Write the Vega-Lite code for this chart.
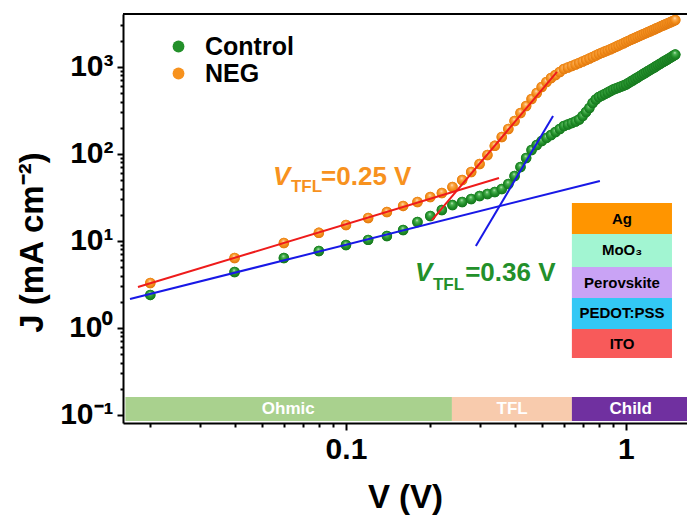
{
  "$schema": "https://vega.github.io/schema/vega-lite/v6.json",
  "width": 564,
  "height": 409,
  "autosize": {"type": "none"},
  "padding": {"left": 123, "top": 14, "right": 0, "bottom": 97},
  "background": "white",
  "config": {
    "view": {"stroke": null},
    "font": "Liberation Sans",
    "axis": {
      "grid": false,
      "domainColor": "black",
      "domainWidth": 2,
      "tickColor": "black",
      "tickWidth": 2,
      "labelFont": "Liberation Sans",
      "labelFontSize": 30,
      "labelFontWeight": "bold",
      "labelColor": "black",
      "titleFont": "Liberation Sans",
      "titleFontSize": 33,
      "titleFontWeight": "bold",
      "titleColor": "black"
    }
  },
  "datasets": {
    "iv": [
      {"s": "Control", "V": 0.02, "J": 2.40}, {"s": "Control", "V": 0.04, "J": 4.40}, {"s": "Control", "V": 0.06, "J": 6.38},
      {"s": "Control", "V": 0.08, "J": 7.68}, {"s": "Control", "V": 0.10, "J": 8.99}, {"s": "Control", "V": 0.12, "J": 10.3},
      {"s": "Control", "V": 0.14, "J": 11.4}, {"s": "Control", "V": 0.16, "J": 13.4}, {"s": "Control", "V": 0.18, "J": 16.5},
      {"s": "Control", "V": 0.20, "J": 19.4}, {"s": "Control", "V": 0.22, "J": 22.7}, {"s": "Control", "V": 0.24, "J": 25.9},
      {"s": "Control", "V": 0.26, "J": 28.1}, {"s": "Control", "V": 0.28, "J": 30.4}, {"s": "Control", "V": 0.30, "J": 32.9},
      {"s": "Control", "V": 0.32, "J": 34.7}, {"s": "Control", "V": 0.34, "J": 36.6}, {"s": "Control", "V": 0.36, "J": 39.6},
      {"s": "Control", "V": 0.38, "J": 45.2}, {"s": "Control", "V": 0.40, "J": 55.9}, {"s": "Control", "V": 0.42, "J": 70.9},
      {"s": "Control", "V": 0.44, "J": 90.0}, {"s": "Control", "V": 0.46, "J": 111}, {"s": "Control", "V": 0.48, "J": 127},
      {"s": "Control", "V": 0.50, "J": 141}, {"s": "Control", "V": 0.52, "J": 153}, {"s": "Control", "V": 0.54, "J": 165},
      {"s": "Control", "V": 0.56, "J": 179}, {"s": "Control", "V": 0.58, "J": 194}, {"s": "Control", "V": 0.60, "J": 210},
      {"s": "Control", "V": 0.62, "J": 218}, {"s": "Control", "V": 0.64, "J": 227}, {"s": "Control", "V": 0.66, "J": 236},
      {"s": "Control", "V": 0.68, "J": 249}, {"s": "Control", "V": 0.70, "J": 273}, {"s": "Control", "V": 0.72, "J": 304},
      {"s": "Control", "V": 0.74, "J": 338}, {"s": "Control", "V": 0.76, "J": 386}, {"s": "Control", "V": 0.78, "J": 423},
      {"s": "Control", "V": 0.80, "J": 452}, {"s": "Control", "V": 0.82, "J": 470}, {"s": "Control", "V": 0.84, "J": 490},
      {"s": "Control", "V": 0.86, "J": 509}, {"s": "Control", "V": 0.88, "J": 530}, {"s": "Control", "V": 0.90, "J": 551},
      {"s": "Control", "V": 0.92, "J": 566}, {"s": "Control", "V": 0.94, "J": 581}, {"s": "Control", "V": 0.96, "J": 597},
      {"s": "Control", "V": 0.98, "J": 613}, {"s": "Control", "V": 1.00, "J": 629}, {"s": "Control", "V": 1.02, "J": 654},
      {"s": "Control", "V": 1.04, "J": 679}, {"s": "Control", "V": 1.06, "J": 705}, {"s": "Control", "V": 1.08, "J": 731},
      {"s": "Control", "V": 1.10, "J": 758}, {"s": "Control", "V": 1.12, "J": 785}, {"s": "Control", "V": 1.14, "J": 812},
      {"s": "Control", "V": 1.16, "J": 840}, {"s": "Control", "V": 1.18, "J": 869}, {"s": "Control", "V": 1.20, "J": 898},
      {"s": "Control", "V": 1.22, "J": 927}, {"s": "Control", "V": 1.24, "J": 957}, {"s": "Control", "V": 1.26, "J": 988},
      {"s": "Control", "V": 1.28, "J": 1018}, {"s": "Control", "V": 1.30, "J": 1050}, {"s": "Control", "V": 1.32, "J": 1081},
      {"s": "Control", "V": 1.34, "J": 1114}, {"s": "Control", "V": 1.36, "J": 1146}, {"s": "Control", "V": 1.38, "J": 1179},
      {"s": "Control", "V": 1.40, "J": 1213}, {"s": "Control", "V": 1.42, "J": 1247}, {"s": "Control", "V": 1.44, "J": 1281},
      {"s": "Control", "V": 1.46, "J": 1316}, {"s": "Control", "V": 1.48, "J": 1352}, {"s": "Control", "V": 1.50, "J": 1388},
      {"s": "NEG", "V": 0.02, "J": 3.29}, {"s": "NEG", "V": 0.04, "J": 6.38}, {"s": "NEG", "V": 0.06, "J": 9.48},
      {"s": "NEG", "V": 0.08, "J": 12.4}, {"s": "NEG", "V": 0.10, "J": 15.3}, {"s": "NEG", "V": 0.12, "J": 18.4},
      {"s": "NEG", "V": 0.14, "J": 21.5}, {"s": "NEG", "V": 0.16, "J": 25.3}, {"s": "NEG", "V": 0.18, "J": 28.1},
      {"s": "NEG", "V": 0.20, "J": 32.0}, {"s": "NEG", "V": 0.22, "J": 35.6}, {"s": "NEG", "V": 0.24, "J": 41.8},
      {"s": "NEG", "V": 0.26, "J": 50.2}, {"s": "NEG", "V": 0.28, "J": 62.1}, {"s": "NEG", "V": 0.30, "J": 76.8},
      {"s": "NEG", "V": 0.32, "J": 97.4}, {"s": "NEG", "V": 0.34, "J": 124}, {"s": "NEG", "V": 0.36, "J": 157},
      {"s": "NEG", "V": 0.38, "J": 194}, {"s": "NEG", "V": 0.40, "J": 239}, {"s": "NEG", "V": 0.42, "J": 296},
      {"s": "NEG", "V": 0.44, "J": 356}, {"s": "NEG", "V": 0.46, "J": 429}, {"s": "NEG", "V": 0.48, "J": 503},
      {"s": "NEG", "V": 0.50, "J": 589}, {"s": "NEG", "V": 0.52, "J": 672}, {"s": "NEG", "V": 0.54, "J": 747},
      {"s": "NEG", "V": 0.56, "J": 809}, {"s": "NEG", "V": 0.58, "J": 876}, {"s": "NEG", "V": 0.60, "J": 949},
      {"s": "NEG", "V": 0.62, "J": 987}, {"s": "NEG", "V": 0.64, "J": 1027}, {"s": "NEG", "V": 0.66, "J": 1068},
      {"s": "NEG", "V": 0.68, "J": 1112}, {"s": "NEG", "V": 0.70, "J": 1157}, {"s": "NEG", "V": 0.72, "J": 1204},
      {"s": "NEG", "V": 0.74, "J": 1252}, {"s": "NEG", "V": 0.76, "J": 1303}, {"s": "NEG", "V": 0.78, "J": 1356},
      {"s": "NEG", "V": 0.80, "J": 1411}, {"s": "NEG", "V": 0.82, "J": 1456}, {"s": "NEG", "V": 0.84, "J": 1503},
      {"s": "NEG", "V": 0.86, "J": 1551}, {"s": "NEG", "V": 0.88, "J": 1602}, {"s": "NEG", "V": 0.90, "J": 1653},
      {"s": "NEG", "V": 0.92, "J": 1707}, {"s": "NEG", "V": 0.94, "J": 1762}, {"s": "NEG", "V": 0.96, "J": 1819},
      {"s": "NEG", "V": 0.98, "J": 1878}, {"s": "NEG", "V": 1.00, "J": 1939}, {"s": "NEG", "V": 1.02, "J": 1995},
      {"s": "NEG", "V": 1.04, "J": 2051}, {"s": "NEG", "V": 1.06, "J": 2108}, {"s": "NEG", "V": 1.08, "J": 2165},
      {"s": "NEG", "V": 1.10, "J": 2223}, {"s": "NEG", "V": 1.12, "J": 2282}, {"s": "NEG", "V": 1.14, "J": 2340},
      {"s": "NEG", "V": 1.16, "J": 2400}, {"s": "NEG", "V": 1.18, "J": 2459}, {"s": "NEG", "V": 1.20, "J": 2519},
      {"s": "NEG", "V": 1.22, "J": 2579}, {"s": "NEG", "V": 1.24, "J": 2640}, {"s": "NEG", "V": 1.26, "J": 2702},
      {"s": "NEG", "V": 1.28, "J": 2764}, {"s": "NEG", "V": 1.30, "J": 2826}, {"s": "NEG", "V": 1.32, "J": 2888},
      {"s": "NEG", "V": 1.34, "J": 2952}, {"s": "NEG", "V": 1.36, "J": 3015}, {"s": "NEG", "V": 1.38, "J": 3079},
      {"s": "NEG", "V": 1.40, "J": 3143}, {"s": "NEG", "V": 1.42, "J": 3208}, {"s": "NEG", "V": 1.44, "J": 3273},
      {"s": "NEG", "V": 1.46, "J": 3338}, {"s": "NEG", "V": 1.48, "J": 3404}, {"s": "NEG", "V": 1.50, "J": 3470}
    ],
    "fits": [
      {"s": "NEG", "seg": "ohmic", "V": 0.01807, "J": 2.96},
      {"s": "NEG", "seg": "ohmic", "V": 0.352, "J": 53.0},
      {"s": "NEG", "seg": "tfl", "V": 0.2028, "J": 17.4},
      {"s": "NEG", "seg": "tfl", "V": 0.567, "J": 877},
      {"s": "Control", "seg": "ohmic", "V": 0.01693, "J": 2.15},
      {"s": "Control", "seg": "ohmic", "V": 0.807, "J": 49.0},
      {"s": "Control", "seg": "tfl", "V": 0.291, "J": 8.77},
      {"s": "Control", "seg": "tfl", "V": 0.549, "J": 274}
    ],
    "regions": [
      {"region": "Ohmic", "V": 0.0163, "V2": 0.239, "Vc": 0.0622, "J": 0.0853, "J2": 0.161, "Jc": 0.117},
      {"region": "TFL", "V": 0.239, "V2": 0.641, "Vc": 0.392, "J": 0.0853, "J2": 0.161, "Jc": 0.117},
      {"region": "Child", "V": 0.641, "V2": 1.652, "Vc": 1.04, "J": 0.0853, "J2": 0.161, "Jc": 0.117}
    ],
    "device": [
      {"layer": "Ag", "V": 0.641, "V2": 1.46, "J": 12.0, "J2": 27.4, "Vc": 0.968, "Jc": 18.1},
      {"layer": "MoO₃", "V": 0.641, "V2": 1.46, "J": 5.02, "J2": 12.0, "Vc": 0.968, "Jc": 7.78},
      {"layer": "Perovskite", "V": 0.641, "V2": 1.46, "J": 2.21, "J2": 5.02, "Vc": 0.968, "Jc": 3.33},
      {"layer": "PEDOT:PSS", "V": 0.641, "V2": 1.46, "J": 0.974, "J2": 2.21, "Vc": 0.968, "Jc": 1.47},
      {"layer": "ITO", "V": 0.641, "V2": 1.46, "J": 0.452, "J2": 0.974, "Vc": 0.968, "Jc": 0.663}
    ],
    "notes": [
      {"s": "NEG", "part": "sym", "V": 0.0549, "J": 44.0, "t": "V"},
      {"s": "NEG", "part": "sub", "V": 0.0636, "J": 36.6, "t": "TFL"},
      {"s": "NEG", "part": "val", "V": 0.0815, "J": 44.0, "t": "=0.25 V"},
      {"s": "Control", "part": "sym", "V": 0.1764, "J": 3.47, "t": "V"},
      {"s": "Control", "part": "sub", "V": 0.2045, "J": 2.73, "t": "TFL"},
      {"s": "Control", "part": "val", "V": 0.2665, "J": 3.47, "t": "=0.36 V"}
    ],
    "frame": [{"J": 4064}]
  },
  "layer": [
    {
      "data": {"name": "regions"},
      "mark": {"type": "rect"},
      "encoding": {
        "x": {
          "field": "V", "type": "quantitative", "title": "V (V)",
          "scale": {"type": "log", "domain": [0.01598, 1.652], "nice": false, "zero": false},
          "axis": {
            "orient": "bottom",
            "values": [0.1, 1],
            "format": "~g",
            "tickSize": 7,
            "labelPadding": 4,
            "labelOverlap": false,
            "labelFlush": false,
            "titlePadding": 17
          }
        },
        "x2": {"field": "V2"},
        "y": {
          "field": "J", "type": "quantitative", "title": "J (mA cm⁻²)",
          "scale": {"type": "log", "domain": [0.0809, 4064], "nice": false, "zero": false},
          "axis": {
            "orient": "left",
            "values": [0.1, 1, 10, 100, 1000],
            "labelExpr": "datum.value == 0.1 ? '10⁻¹' : datum.value == 1 ? '10⁰' : datum.value == 10 ? '10¹' : datum.value == 100 ? '10²' : '10³'",
            "tickSize": 6,
            "labelPadding": 4,
            "labelOverlap": false,
            "labelFlush": false,
            "titlePadding": 10,
            "titleY": 228
          }
        },
        "y2": {"field": "J2"},
        "color": {
          "field": "region", "type": "nominal", "legend": null,
          "scale": {"domain": ["Ohmic", "TFL", "Child"], "range": ["#a9d18e", "#f8cbad", "#7030a0"]}
        }
      }
    },
    {
      "data": {"name": "regions"},
      "mark": {"type": "text", "font": "Liberation Sans", "fontWeight": "bold", "fontSize": 17, "color": "white", "baseline": "middle", "align": "center"},
      "encoding": {
        "x": {
          "field": "Vc", "type": "quantitative",
          "axis": {
            "orient": "bottom", "title": null, "domain": false, "labels": false, "tickSize": 4,
            "values": [0.02, 0.03, 0.04, 0.05, 0.06, 0.07, 0.08, 0.09, 0.2, 0.3, 0.4, 0.5, 0.6, 0.7, 0.8, 0.9]
          }
        },
        "y": {
          "field": "Jc", "type": "quantitative",
          "axis": {
            "orient": "left", "title": null, "domain": false, "labels": false, "tickSize": 3,
            "values": [0.2, 0.3, 0.4, 0.5, 0.6, 0.7, 0.8, 0.9, 2, 3, 4, 5, 6, 7, 8, 9, 20, 30, 40, 50, 60, 70, 80, 90, 200, 300, 400, 500, 600, 700, 800, 900, 2000, 3000]
          }
        },
        "text": {"field": "region"}
      }
    },
    {
      "data": {"name": "iv"},
      "mark": {"type": "point", "filled": true, "size": 110, "opacity": 1, "shape": "circle"},
      "encoding": {
        "x": {"field": "V", "type": "quantitative", "axis": null},
        "y": {"field": "J", "type": "quantitative", "axis": null},
        "color": {
          "field": "s", "type": "nominal",
          "scale": {"domain": ["Control", "NEG"], "range": ["#23902a", "#f7921e"]},
          "legend": {
            "title": null,
            "orient": "none",
            "legendX": 43,
            "legendY": 20,
            "symbolType": "circle",
            "symbolSize": 140,
            "symbolStrokeWidth": 0,
            "labelFont": "Liberation Sans",
            "labelFontSize": 25,
            "labelFontWeight": "bold",
            "labelColor": "black",
            "labelOffset": 14,
            "rowPadding": 1,
            "labelExpr": "datum.label == 'NEG' ? '\u2003NEG' : datum.label"
          }
        }
      }
    },
    {
      "data": {"name": "iv"},
      "transform": [{"filter": "datum.s == 'NEG'"}],
      "mark": {
        "type": "point", "filled": true, "size": 110, "opacity": 1, "shape": "circle",
        "fill": {"gradient": "radial", "x1": 0.45, "y1": 0.3, "r1": 0, "x2": 0.5, "y2": 0.5, "r2": 0.55,
          "stops": [{"offset": 0, "color": "#fff3e0"}, {"offset": 0.22, "color": "#fcb05c"}, {"offset": 0.6, "color": "#f5901c"}, {"offset": 1, "color": "#dc730c"}]}
      },
      "encoding": {
        "x": {"field": "V", "type": "quantitative", "axis": null},
        "y": {"field": "J", "type": "quantitative", "axis": null}
      }
    },
    {
      "data": {"name": "iv"},
      "transform": [{"filter": "datum.s == 'Control'"}],
      "mark": {
        "type": "point", "filled": true, "size": 110, "opacity": 1, "shape": "circle",
        "fill": {"gradient": "radial", "x1": 0.45, "y1": 0.3, "r1": 0, "x2": 0.5, "y2": 0.5, "r2": 0.55,
          "stops": [{"offset": 0, "color": "#e2f7e2"}, {"offset": 0.22, "color": "#55b85a"}, {"offset": 0.6, "color": "#22902a"}, {"offset": 1, "color": "#12701a"}]}
      },
      "encoding": {
        "x": {"field": "V", "type": "quantitative", "axis": null},
        "y": {"field": "J", "type": "quantitative", "axis": null}
      }
    },
    {
      "data": {"name": "fits"},
      "transform": [{"filter": "datum.s == 'NEG'"}],
      "mark": {"type": "line", "color": "#ee1b1b", "strokeWidth": 2},
      "encoding": {
        "x": {"field": "V", "type": "quantitative", "axis": null},
        "y": {"field": "J", "type": "quantitative", "axis": null},
        "detail": {"field": "seg"}
      }
    },
    {
      "data": {"name": "fits"},
      "transform": [{"filter": "datum.s == 'Control'"}],
      "mark": {"type": "line", "color": "#1818e6", "strokeWidth": 2},
      "encoding": {
        "x": {"field": "V", "type": "quantitative", "axis": null},
        "y": {"field": "J", "type": "quantitative", "axis": null},
        "detail": {"field": "seg"}
      }
    },
    {
      "data": {"name": "device"},
      "mark": {"type": "rect"},
      "encoding": {
        "x": {"field": "V", "type": "quantitative", "axis": null},
        "x2": {"field": "V2"},
        "y": {"field": "J", "type": "quantitative", "axis": null},
        "y2": {"field": "J2"},
        "color": {
          "field": "layer", "type": "nominal", "legend": null,
          "scale": {"domain": ["Ag", "MoO₃", "Perovskite", "PEDOT:PSS", "ITO"], "range": ["#ff9500", "#a2f5d2", "#c9a3f5", "#33c8f5", "#f85a5a"]}
        }
      }
    },
    {
      "data": {"name": "device"},
      "mark": {"type": "text", "font": "Liberation Sans", "fontWeight": "bold", "fontSize": 15, "color": "black", "baseline": "middle", "align": "center"},
      "encoding": {
        "x": {"field": "Vc", "type": "quantitative", "axis": null},
        "y": {"field": "Jc", "type": "quantitative", "axis": null},
        "text": {"field": "layer"}
      }
    },
    {
      "data": {"name": "notes"},
      "transform": [{"filter": "datum.part == 'sym'"}],
      "mark": {"type": "text", "font": "Liberation Sans", "fontWeight": "bold", "fontStyle": "italic", "fontSize": 26, "align": "left", "baseline": "alphabetic"},
      "encoding": {
        "x": {"field": "V", "type": "quantitative", "axis": null},
        "y": {"field": "J", "type": "quantitative", "axis": null},
        "text": {"field": "t"},
        "color": {"field": "s", "type": "nominal", "legend": null, "scale": {"domain": ["Control", "NEG"], "range": ["#23902a", "#f7921e"]}}
      }
    },
    {
      "data": {"name": "notes"},
      "transform": [{"filter": "datum.part == 'sub'"}],
      "mark": {"type": "text", "font": "Liberation Sans", "fontWeight": "bold", "fontSize": 17, "align": "left", "baseline": "alphabetic"},
      "encoding": {
        "x": {"field": "V", "type": "quantitative", "axis": null},
        "y": {"field": "J", "type": "quantitative", "axis": null},
        "text": {"field": "t"},
        "color": {"field": "s", "type": "nominal", "legend": null, "scale": {"domain": ["Control", "NEG"], "range": ["#23902a", "#f7921e"]}}
      }
    },
    {
      "data": {"name": "notes"},
      "transform": [{"filter": "datum.part == 'val'"}],
      "mark": {"type": "text", "font": "Liberation Sans", "fontWeight": "bold", "fontSize": 26, "align": "left", "baseline": "alphabetic"},
      "encoding": {
        "x": {"field": "V", "type": "quantitative", "axis": null},
        "y": {"field": "J", "type": "quantitative", "axis": null},
        "text": {"field": "t"},
        "color": {"field": "s", "type": "nominal", "legend": null, "scale": {"domain": ["Control", "NEG"], "range": ["#23902a", "#f7921e"]}}
      }
    },
    {
      "data": {"name": "frame"},
      "mark": {"type": "rule", "color": "black", "strokeWidth": 2},
      "encoding": {
        "y": {"field": "J", "type": "quantitative", "axis": null}
      }
    }
  ],
  "resolve": {"scale": {"color": "independent"}, "axis": {"x": "independent", "y": "independent"}}
}
